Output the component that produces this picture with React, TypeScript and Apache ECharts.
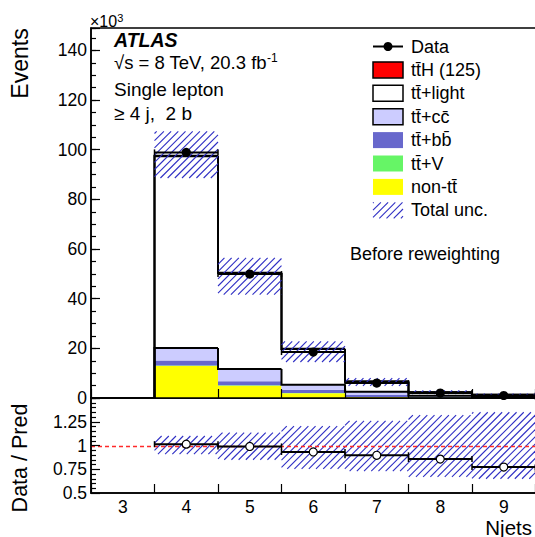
import React, { useEffect, useRef } from 'react';
import * as echarts from 'echarts';

// ---- data (thousands of events per Njets bin) ----
const categories = ['3', '4', '5', '6', '7', '8', '9', '10'];
const nonTT = [0, 12.9, 4.95, 1.95, 0.4, 0.15, 0.05, 0.02];
const ttV = [0, 0.2, 0.15, 0.08, 0.05, 0.02, 0.01, 0.005];
const ttbb = [0, 2.0, 1.6, 1.3, 0.8, 0.3, 0.15, 0.07];
const ttcc = [0, 5.0, 5.0, 2.0, 1.3, 0.45, 0.2, 0.1];
const ttlight = [0, 77.3, 38.6, 14.4, 4.1, 1.4, 0.9, 0.41];
const ttH = [0, 0.2, 0.1, 0.07, 0.04, 0.01, 0.005, 0.002];
const dataEvents: (number | null)[] = [null, 98.9, 49.9, 18.5, 6.0, 2.0, 1.0, 0.45];
const uncUp: (number | null)[] = [null, 107.4, 56.4, 22.8, 8.0, 3.1, 1.76, 0.8];
const uncDown: (number | null)[] = [null, 88.6, 41.6, 14.5, 4.9, 1.56, 0.85, 0.4];
const ratio: (number | null)[] = [null, 1.014, 0.99, 0.932, 0.897, 0.857, 0.773, 0.75];
const ratioUp: (number | null)[] = [null, 1.1, 1.135, 1.205, 1.26, 1.32, 1.35, 1.4];
const ratioDown: (number | null)[] = [null, 0.91, 0.85, 0.755, 0.73, 0.67, 0.65, 0.62];
const visibleXLabels = ['3', '4', '5', '6', '7', '8', '9'];

const legendLabels = [
  'Data',
  'tt\u0304H (125)',
  'tt\u0304+light',
  'tt\u0304+cc\u0304',
  'tt\u0304+bb\u0304',
  'tt\u0304+V',
  'non-tt\u0304',
  'Total unc.',
];
const infoLines = ['ATLAS', 'Single lepton', '\u2265 4 j,  2 b'];

const layers = [nonTT, ttV, ttbb, ttcc, ttlight, ttH];
const layerColors = ['#ffff00', '#66f566', '#6868cc', '#ccccff', '#ffffff', '#ff0000'];

const FONT = '"Liberation Sans", Arial, Helvetica, sans-serif';
const HATCH = '#2e2ec4';

function cum(level: number, i: number) {
  let s = 0;
  for (let k = 0; k <= level; k++) s += layers[k][i];
  return s;
}

function hatch(x0: number, y0: number, x1: number, y1: number, step = 7.2, color = HATCH, lw = 1.1) {
  const out: any[] = [];
  const cStart = Math.ceil((x0 + y0) / step) * step;
  for (let c = cStart; c <= x1 + y1; c += step) {
    const xa = Math.max(x0, c - y1);
    const xb = Math.min(x1, c - y0);
    if (xb > xa) {
      out.push({
        type: 'line',
        shape: { x1: xa, y1: c - xa, x2: xb, y2: c - xb },
        style: { stroke: color, lineWidth: lw },
        silent: true,
      });
    }
  }
  return out;
}

function binGeom(api: any, i: number) {
  const w = api.size([1, 0])[0];
  const xc = api.coord([i, 0])[0];
  return { xl: xc - w / 2, xr: xc + w / 2, xc, w };
}

export default function App() {
  const ref = useRef<HTMLDivElement>(null);

  useEffect(() => {
    const chart = echarts.init(ref.current!, null, { renderer: 'svg' });
    const idxData = categories.map((_, i) => [i, 0]);

    const txt = (x: number, y: number, text: string, size: number, extra: any = {}) => ({
      type: 'text',
      x,
      y,
      silent: true,
      rotation: extra.rotation || 0,
      style: {
        text,
        fill: '#000',
        fontFamily: FONT,
        fontSize: size,
        fontWeight: extra.fontWeight || 'normal',
        fontStyle: extra.fontStyle || 'normal',
        textAlign: extra.align || 'left',
        align: extra.align || 'left',
        textVerticalAlign: 'middle',
        verticalAlign: 'middle',
        rich: extra.rich,
      },
    });

    // legend graphics
    const lx0 = 373;
    const lw = 30;
    const lTextX = 411;
    const rowY = (k: number) => 46.5 + k * 23.4;
    const legendEls: any[] = [];
    legendEls.push({
      type: 'line',
      shape: { x1: lx0, y1: rowY(0), x2: lx0 + lw, y2: rowY(0) },
      style: { stroke: '#000', lineWidth: 2 },
      silent: true,
    });
    legendEls.push({
      type: 'circle',
      shape: { cx: lx0 + lw / 2, cy: rowY(0), r: 4.5 },
      style: { fill: '#000' },
      silent: true,
    });
    const boxDefs = [
      { color: layerColors[5], border: true },
      { color: layerColors[4], border: true },
      { color: layerColors[3], border: true },
      { color: layerColors[2], border: false },
      { color: layerColors[1], border: false },
      { color: layerColors[0], border: false },
    ];
    boxDefs.forEach((b, k) => {
      legendEls.push({
        type: 'rect',
        shape: { x: lx0, y: rowY(k + 1) - 8, width: lw, height: 16 },
        style: { fill: b.color, stroke: b.border ? '#000' : b.color, lineWidth: b.border ? 1.5 : 0 },
        silent: true,
      });
    });
    hatch(lx0, rowY(7) - 8, lx0 + lw, rowY(7) + 8).forEach((e) => legendEls.push(e));
    legendLabels.forEach((t, k) => legendEls.push(txt(lTextX, rowY(k), t, 18)));

    const option: any = {
      animation: false,
      backgroundColor: '#ffffff',
      grid: [
        { left: 91, top: 28, width: 508, height: 370, show: true, borderColor: '#000', borderWidth: 1.5, backgroundColor: 'transparent' },
        { left: 91, top: 398, width: 508, height: 95, show: true, borderColor: '#000', borderWidth: 1.5, backgroundColor: 'transparent' },
      ],
      xAxis: [
        {
          gridIndex: 0,
          type: 'category',
          data: categories,
          boundaryGap: true,
          z: 10,
          axisLine: { show: true, lineStyle: { color: '#000', width: 1.5 } },
          axisTick: { show: true, inside: true, length: 9, interval: 0, lineStyle: { color: '#000', width: 1.2 } },
          axisLabel: { show: false },
          splitLine: { show: false },
        },
        {
          gridIndex: 1,
          type: 'category',
          data: categories,
          boundaryGap: true,
          z: 10,
          axisLine: { show: true, lineStyle: { color: '#000', width: 1.5 } },
          axisTick: { show: true, inside: true, length: 9, interval: 0, lineStyle: { color: '#000', width: 1.2 } },
          axisLabel: {
            show: true,
            interval: 0,
            color: '#000',
            fontSize: 17.5,
            fontFamily: FONT,
            margin: 5,
            formatter: (v: string) => (visibleXLabels.indexOf(v) >= 0 ? v : ''),
          },
          splitLine: { show: false },
        },
      ],
      yAxis: [
        {
          gridIndex: 0,
          type: 'value',
          position: 'left',
          min: 0,
          max: 149,
          interval: 20,
          z: 10,
          axisLine: { show: true, lineStyle: { color: '#000', width: 1.5 } },
          axisTick: { show: true, inside: true, length: 9, lineStyle: { color: '#000', width: 1.2 } },
          axisLabel: {
            color: '#000',
            fontSize: 17.5,
            fontFamily: FONT,
            margin: 4,
            formatter: (v: number) => (v % 20 === 0 ? String(v) : ''),
          },
          splitLine: { show: false },
        },
        {
          gridIndex: 0,
          type: 'value',
          position: 'left',
          min: 0,
          max: 149,
          interval: 5,
          z: 10,
          axisLine: { show: false },
          axisTick: { show: true, inside: true, length: 5, lineStyle: { color: '#000', width: 1.2 } },
          axisLabel: { show: false },
          splitLine: { show: false },
        },
        {
          gridIndex: 1,
          type: 'value',
          position: 'left',
          min: 0.5,
          max: 1.5,
          interval: 0.25,
          z: 10,
          axisLine: { show: true, lineStyle: { color: '#000', width: 1.5 } },
          axisTick: { show: true, inside: true, length: 9, lineStyle: { color: '#000', width: 1.2 } },
          minorTick: { show: true, splitNumber: 5, length: 5, lineStyle: { color: '#000', width: 1.2 } },
          axisLabel: {
            color: '#000',
            fontSize: 17.5,
            fontFamily: FONT,
            margin: 4,
            formatter: (v: number) => (Math.abs(v - 1.5) < 1e-9 ? '' : String(v)),
          },
          splitLine: { show: false },
          minorSplitLine: { show: false },
        },
      ],
      series: [
        // stacked fills
        {
          type: 'custom',
          xAxisIndex: 0,
          yAxisIndex: 0,
          z: 1,
          silent: true,
          data: idxData,
          renderItem: (params: any, api: any) => {
            const i = params.dataIndex;
            const { xl, xr } = binGeom(api, i);
            const children: any[] = [];
            let base = 0;
            layers.forEach((arr, k) => {
              const top = base + arr[i];
              if (arr[i] > 0) {
                const yb = api.coord([i, base])[1];
                const yt = api.coord([i, top])[1];
                children.push({
                  type: 'rect',
                  shape: { x: xl, y: yt, width: xr - xl, height: yb - yt },
                  style: { fill: layerColors[k] },
                });
              }
              base = top;
            });
            return { type: 'group', children };
          },
        },
        // outlines (tt+cc, tt+light, total)
        {
          type: 'custom',
          xAxisIndex: 0,
          yAxisIndex: 0,
          z: 2,
          silent: true,
          data: idxData,
          renderItem: (params: any, api: any) => {
            const i = params.dataIndex;
            const { xl, xr } = binGeom(api, i);
            const children: any[] = [];
            [3, 4, 5].forEach((lvl) => {
              const cur = cum(lvl, i);
              const prev = i > 0 ? cum(lvl, i - 1) : 0;
              if (cur === 0 && prev === 0) return;
              const yc = api.coord([i, cur])[1];
              const yp = api.coord([i, prev])[1];
              children.push({
                type: 'polyline',
                shape: { points: [[xl, yp], [xl, yc], [xr, yc]] },
                style: { stroke: '#000', lineWidth: 2, fill: 'none' },
              });
            });
            return { type: 'group', children };
          },
        },
        // total uncertainty band (upper)
        {
          type: 'custom',
          xAxisIndex: 0,
          yAxisIndex: 0,
          z: 3,
          silent: true,
          data: idxData,
          renderItem: (params: any, api: any) => {
            const i = params.dataIndex;
            if (uncUp[i] == null || uncDown[i] == null) return { type: 'group', children: [] };
            const { xl, xr } = binGeom(api, i);
            const yt = api.coord([i, uncUp[i]])[1];
            const yb = api.coord([i, uncDown[i]])[1];
            return { type: 'group', children: hatch(xl, yt, xr, yb) };
          },
        },
        // data points
        {
          type: 'custom',
          xAxisIndex: 0,
          yAxisIndex: 0,
          z: 4,
          silent: true,
          data: idxData,
          renderItem: (params: any, api: any) => {
            const i = params.dataIndex;
            const v = dataEvents[i];
            if (v == null) return { type: 'group', children: [] };
            const { xl, xr, xc } = binGeom(api, i);
            const y = api.coord([i, v])[1];
            return {
              type: 'group',
              children: [
                { type: 'line', shape: { x1: xl, y1: y, x2: xr, y2: y }, style: { stroke: '#000', lineWidth: 2 } },
                { type: 'line', shape: { x1: xl, y1: y - 3, x2: xl, y2: y + 3 }, style: { stroke: '#000', lineWidth: 1.5 } },
                { type: 'line', shape: { x1: xr, y1: y - 3, x2: xr, y2: y + 3 }, style: { stroke: '#000', lineWidth: 1.5 } },
                { type: 'circle', shape: { cx: xc, cy: y, r: 4.6 }, style: { fill: '#000' } },
              ],
            };
          },
        },
        // ratio band
        {
          type: 'custom',
          xAxisIndex: 1,
          yAxisIndex: 2,
          z: 1,
          silent: true,
          data: idxData,
          renderItem: (params: any, api: any) => {
            const i = params.dataIndex;
            if (ratioUp[i] == null || ratioDown[i] == null) return { type: 'group', children: [] };
            const { xl, xr } = binGeom(api, i);
            const yt = api.coord([i, ratioUp[i]])[1];
            const yb = api.coord([i, ratioDown[i]])[1];
            return { type: 'group', children: hatch(xl, yt, xr, yb) };
          },
        },
        // unity line (drawn once across the panel)
        {
          type: 'custom',
          xAxisIndex: 1,
          yAxisIndex: 2,
          z: 2,
          silent: true,
          data: [[0, 1]],
          renderItem: (params: any, api: any) => {
            const { xl, w } = binGeom(api, 0);
            const y = Math.round(api.coord([0, 1])[1]) + 0.5;
            return {
              type: 'line',
              shape: { x1: xl, y1: y, x2: xl + w * categories.length, y2: y },
              style: { stroke: '#ff2a2a', lineWidth: 1.3, lineDash: [4, 3] },
            };
          },
        },
        // ratio points
        {
          type: 'custom',
          xAxisIndex: 1,
          yAxisIndex: 2,
          z: 3,
          silent: true,
          data: idxData,
          renderItem: (params: any, api: any) => {
            const i = params.dataIndex;
            const v = ratio[i];
            if (v == null) return { type: 'group', children: [] };
            const { xl, xr, xc } = binGeom(api, i);
            const y = api.coord([i, v])[1];
            return {
              type: 'group',
              children: [
                { type: 'line', shape: { x1: xl, y1: y, x2: xr, y2: y }, style: { stroke: '#000', lineWidth: 2 } },
                { type: 'line', shape: { x1: xl, y1: y - 3, x2: xl, y2: y + 3 }, style: { stroke: '#000', lineWidth: 1.5 } },
                { type: 'line', shape: { x1: xr, y1: y - 3, x2: xr, y2: y + 3 }, style: { stroke: '#000', lineWidth: 1.5 } },
                { type: 'circle', shape: { cx: xc, cy: y, r: 4 }, style: { fill: '#fff', stroke: '#000', lineWidth: 1.2 } },
              ],
            };
          },
        },
      ],
      graphic: [
        txt(90, 21, '{a|\u00d710}{b|3}', 16, {
          rich: {
            a: { fontSize: 16, fontFamily: FONT, fill: '#000', lineHeight: 18 },
            b: { fontSize: 11, fontFamily: FONT, fill: '#000', verticalAlign: 'top', lineHeight: 11 },
          },
        }),
        txt(114, 39.5, infoLines[0], 19.5, { fontWeight: 'bold', fontStyle: 'italic' }),
        txt(114, 62.5, '{a|\u221as = 8 TeV, 20.3 fb}{b|-1}', 18.5, {
          rich: {
            a: { fontSize: 18.5, fontFamily: FONT, fill: '#000', lineHeight: 22 },
            b: { fontSize: 12, fontFamily: FONT, fill: '#000', verticalAlign: 'top', lineHeight: 12 },
          },
        }),
        txt(114, 89, infoLines[1], 19),
        txt(114, 113, infoLines[2], 19),
        txt(350, 254, 'Before reweighting', 18),
        txt(19.5, 63.5, 'Events', 23, { align: 'center', rotation: Math.PI / 2 }),
        txt(19.5, 458, 'Data / Pred', 21.5, { align: 'center', rotation: Math.PI / 2 }),
        txt(532, 527, 'Njets', 20.5, { align: 'right' }),
        ...legendEls,
      ],
    };

    chart.setOption(option);
    return () => chart.dispose();
  }, []);

  return (
    <div
      style={{
        position: 'fixed',
        left: 0,
        top: 0,
        width: 535,
        height: 537,
        overflow: 'hidden',
        background: '#fff',
      }}
    >
      <div ref={ref} style={{ width: 600, height: 537 }} />
    </div>
  );
}
